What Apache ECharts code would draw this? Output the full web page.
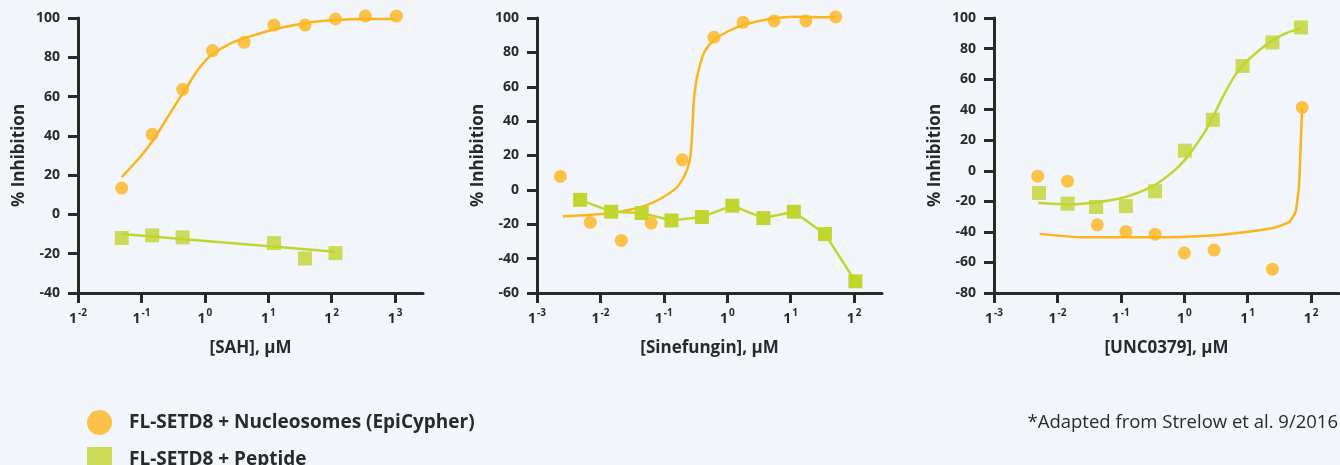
<!DOCTYPE html>
<html>
<head>
<meta charset="utf-8">
<script src="https://cdn.jsdelivr.net/npm/echarts@6/dist/echarts.min.js"></script>
<style>
html,body{margin:0;padding:0;background:#f2f6fb;}
#c{width:1340px;height:465px;}
</style>
</head>
<body>
<div id="c"></div>
<script>
// ---------- DATA (x values are log10 of concentration in µM) ----------
const seriesNames = ['FL-SETD8 + Nucleosomes (EpiCypher)', 'FL-SETD8 + Peptide'];
const xAxisNames = ['[SAH], µM', '[Sinefungin], µM', '[UNC0379], µM'];
const yAxisName = '% Inhibition';
const footnote = '*Adapted from Strelow et al. 9/2016';

// Panel 1: SAH
const sahNucX = [-1.31, -0.83, -0.35, 0.12, 0.62, 1.09, 1.58, 2.06, 2.53, 3.02];
const sahNucY = [13.4, 40.8, 63.7, 83.4, 87.6, 96.4, 96.4, 99.5, 101, 101];
const sahPepX = [-1.31, -0.83, -0.35, 1.09, 1.58, 2.06];
const sahPepY = [-12, -10.7, -11.7, -14.6, -22.4, -19.7];
const sahNucFitX = [-1.31, -1.0, -0.8, -0.5, -0.3, -0.1, 0.1, 0.4, 0.8, 1.2, 1.6, 2.0, 2.5, 3.02];
const sahNucFitY = [19, 30, 38.5, 54, 64, 74, 81, 87, 91.5, 95, 97.5, 98.8, 99.5, 99.5];
const sahPepFitX = [-1.31, 2.06];
const sahPepFitY = [-10, -19];

// Panel 2: Sinefungin
const sinNucX = [-2.63, -2.16, -1.67, -1.2, -0.71, -0.21, 0.25, 0.74, 1.24, 1.71];
const sinNucY = [7.8, -18.9, -29.4, -19.3, 17.5, 88.8, 97.5, 98.3, 98.3, 100.6];
const sinPepX = [-2.32, -1.83, -1.35, -0.88, -0.4, 0.08, 0.57, 1.05, 1.54, 2.02];
const sinPepY = [-5.8, -12.7, -13.5, -17.8, -15.8, -9.2, -16.4, -12.7, -25.7, -53.2];
const sinNucFitX = [-2.59, -1.84, -1.26, -0.84, -0.68, -0.59, -0.553, -0.526, -0.474, -0.37, -0.21, 0.0, 0.26, 0.74, 1.05, 1.71];
const sinNucFitY = [-15.4, -13.5, -8.7, 0, 7.8, 17.5, 33, 52.3, 65.9, 79.5, 87.2, 92, 96, 99.8, 100.8, 100.4];

// Panel 3: UNC0379
const uncNucX = [-2.31, -1.84, -1.37, -0.92, -0.46, 0.0, 0.47, 1.39, 1.86];
const uncNucY = [-3.5, -6.8, -35.4, -39.8, -41.5, -53.8, -51.9, -64.4, 41.5];
const uncPepX = [-2.29, -1.84, -1.39, -0.92, -0.46, 0.01, 0.45, 0.92, 1.39, 1.84];
const uncPepY = [-14.5, -21.5, -23.7, -23.1, -13.4, 13.2, 33.4, 68.6, 84, 93.8];
const uncNucFitX = [-2.28, -1.55, -0.5, 0.55, 1.34, 1.49, 1.65, 1.70, 1.754, 1.78, 1.806, 1.822, 1.832, 1.859];
const uncNucFitY = [-41.3, -43.5, -43.5, -42, -38, -36.3, -33.6, -31, -27, -20.4, -11.6, 1.5, 12.5, 41.3];
const uncPepFitX = [-2.3, -1.81, -1.34, -0.92, -0.5, -0.18, 0.03, 0.24, 0.39, 0.6, 0.81, 1.02, 1.34, 1.6, 1.84];
const uncPepFitY = [-21.1, -22, -20.4, -17.1, -10.1, -0.7, 8.1, 20.2, 30.1, 47.7, 63.1, 73, 84, 90, 93.4];

// axis ranges
const xMins = [-2, -3, -3];
const xTicks = [[-2, -1, 0, 1, 2, 3], [-3, -2, -1, 0, 1, 2], [-3, -2, -1, 0, 1, 2]];
const yMins = [-40, -60, -80];
const yMax = 100;

// ---------- CHART ----------
const ORANGE = '#fcb51a';
const GREEN = '#c2d52e';
const INK = '#262b28';
const FONT = 'Open Sans';

const zip = (xs, ys) => xs.map((x, i) => [x, ys[i]]);

const gridLefts = [78, 537, 994];
const grids = gridLefts.map(l => ({ left: l, top: 18, width: 345, height: 275 }));

const xAxes = grids.map((g, i) => ({
  type: 'value', gridIndex: i, min: xMins[i], max: xTicks[i][5] + 0.44, interval: 1,
  name: xAxisNames[i], nameLocation: 'middle', nameGap: 47,
  nameTextStyle: { fontFamily: FONT, fontWeight: 'bold', fontSize: 17, color: INK },
  axisLine: { show: true, onZero: false, lineStyle: { color: INK, width: 3 } },
  axisTick: { show: true, length: 10, inside: false, lineStyle: { color: INK, width: 3 }, customValues: xTicks[i] },
  splitLine: { show: false },
  axisLabel: {
    margin: 15, customValues: xTicks[i],
    formatter: v => '{b|1}{s|' + v + '}',
    rich: {
      b: { fontFamily: FONT, fontWeight: 'bold', fontSize: 14, color: INK, lineHeight: 18, verticalAlign: 'bottom' },
      s: { fontFamily: FONT, fontWeight: 'bold', fontSize: 10, color: INK, lineHeight: 18, verticalAlign: 'top', padding: [0, 0, 7, 1] }
    }
  }
}));

const yAxes = grids.map((g, i) => ({
  type: 'value', gridIndex: i, min: yMins[i], max: yMax, interval: 20,
  name: yAxisName, nameLocation: 'middle', nameGap: 50, nameRotate: 90,
  nameTextStyle: { fontFamily: FONT, fontWeight: 'bold', fontSize: 17, color: INK },
  axisLine: { show: true, onZero: false, lineStyle: { color: INK, width: 3 } },
  axisTick: { show: true, length: 10, lineStyle: { color: INK, width: 3 } },
  splitLine: { show: false },
  axisLabel: { margin: 18, fontFamily: FONT, fontWeight: 'bold', fontSize: 14, color: INK }
}));

const circleSeries = (i, xs, ys) => ({
  name: seriesNames[0], type: 'scatter', xAxisIndex: i, yAxisIndex: i, clip: false,
  data: zip(xs, ys), symbol: 'circle', symbolSize: 13, itemStyle: { color: ORANGE }, z: 5
});
const squareSeries = (i, xs, ys, withLine) => ({
  name: seriesNames[1], type: withLine ? 'line' : 'scatter', xAxisIndex: i, yAxisIndex: i, clip: false,
  data: zip(xs, ys), symbol: 'rect', symbolSize: 14, itemStyle: { color: GREEN },
  lineStyle: { color: GREEN, width: 2.5 }, showSymbol: true, z: 6
});
const fitSeries = (i, xs, ys, color, smooth) => ({
  type: 'line', xAxisIndex: i, yAxisIndex: i, data: zip(xs, ys), clip: false,
  showSymbol: false, symbol: 'none', smooth: smooth,
  lineStyle: { color: color, width: 2.5 }, z: 3, silent: true
});

const legendBase = {
  left: 82, itemWidth: 25, itemHeight: 25,
  textStyle: { fontFamily: FONT, fontWeight: 'bold', fontSize: 19, color: INK, padding: [0, 0, 0, 12] }
};

const option = {
  backgroundColor: '#f2f6fb',
  animation: false,
  grid: grids, xAxis: xAxes, yAxis: yAxes,
  legend: [
    Object.assign({}, legendBase, { top: 405, data: [{ name: seriesNames[0], icon: 'circle' }] }),
    Object.assign({}, legendBase, { top: 442, data: [{ name: seriesNames[1], icon: 'rect' }] })
  ],
  graphic: [{
    type: 'text', right: 2, top: 413,
    style: { text: footnote, fontFamily: FONT, fontSize: 18.5, fill: INK }
  }],
  series: [
    fitSeries(0, sahNucFitX, sahNucFitY, ORANGE, 0.3),
    fitSeries(0, sahPepFitX, sahPepFitY, GREEN, false),
    circleSeries(0, sahNucX, sahNucY),
    squareSeries(0, sahPepX, sahPepY, false),

    fitSeries(1, sinNucFitX, sinNucFitY, ORANGE, 0.3),
    circleSeries(1, sinNucX, sinNucY),
    squareSeries(1, sinPepX, sinPepY, true),

    fitSeries(2, uncNucFitX, uncNucFitY, ORANGE, 0.3),
    fitSeries(2, uncPepFitX, uncPepFitY, GREEN, 0.3),
    circleSeries(2, uncNucX, uncNucY),
    squareSeries(2, uncPepX, uncPepY, false)
  ]
};

const chart = echarts.init(document.getElementById('c'), null, { renderer: 'canvas' });
chart.setOption(option);
</script>
</body>
</html>
